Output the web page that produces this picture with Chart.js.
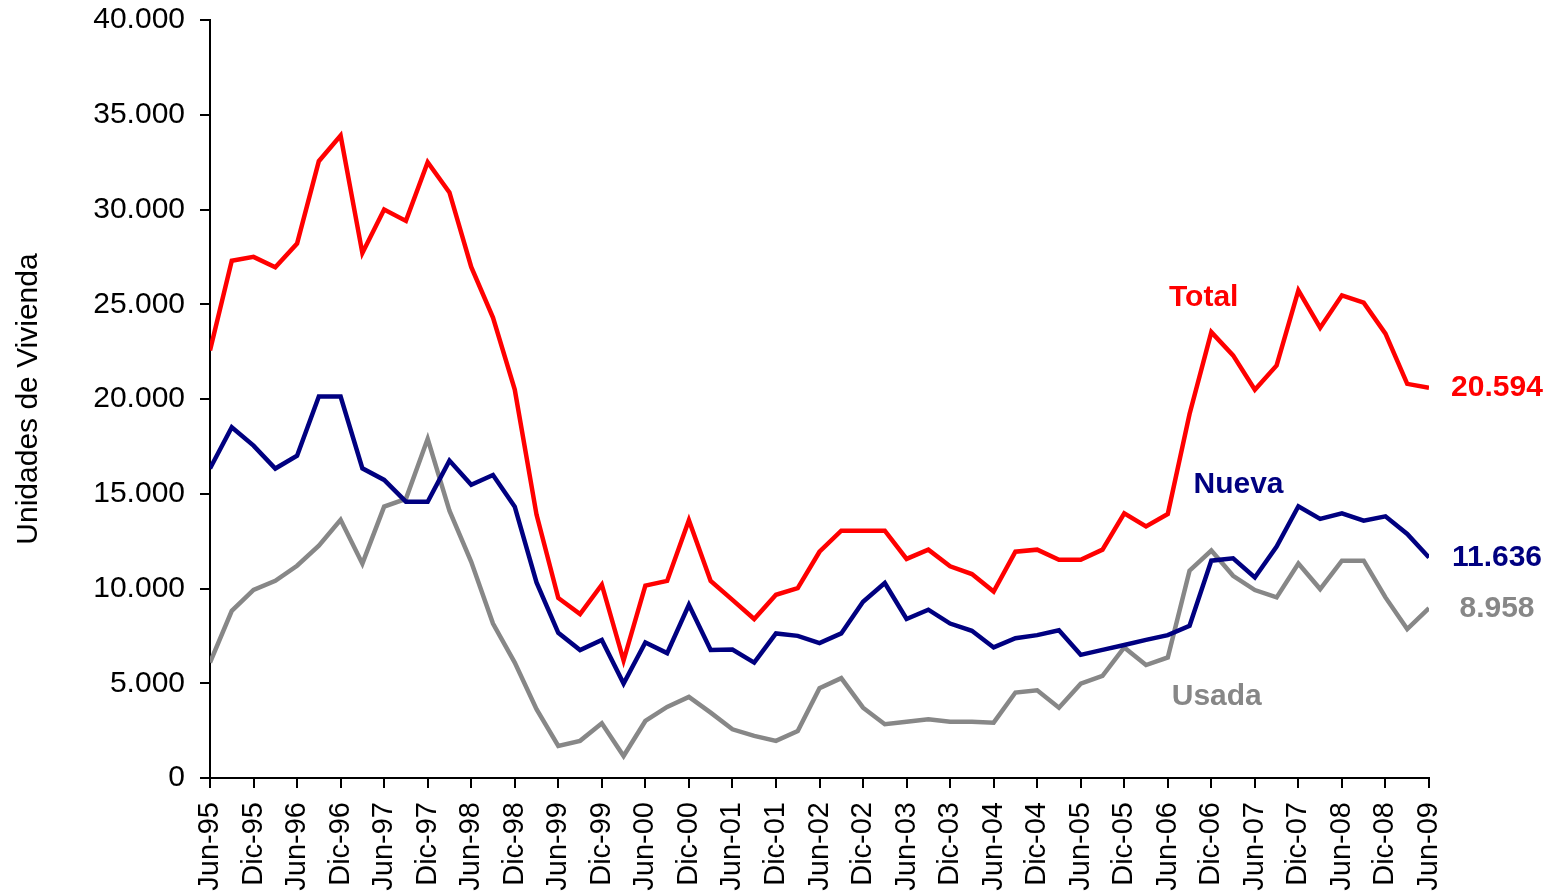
<!DOCTYPE html>
<html>
<head>
<meta charset="utf-8">
<script src="https://cdn.jsdelivr.net/npm/chart.js@4/dist/chart.umd.min.js"></script>
<style>
  html, body { margin: 0; padding: 0; background: #fff; }
  #wrap { width: 1552px; height: 896px; }
</style>
</head>
<body>
<div id="wrap"><canvas id="myChart" width="1552" height="896"></canvas></div>
<script>
// x axis labels, one every two quarters
const tickLabels = ['Jun-95', 'Dic-95', 'Jun-96', 'Dic-96', 'Jun-97', 'Dic-97', 'Jun-98', 'Dic-98',
  'Jun-99', 'Dic-99', 'Jun-00', 'Dic-00', 'Jun-01', 'Dic-01', 'Jun-02', 'Dic-02', 'Jun-03', 'Dic-03',
  'Jun-04', 'Dic-04', 'Jun-05', 'Dic-05', 'Jun-06', 'Dic-06', 'Jun-07', 'Dic-07', 'Jun-08', 'Dic-08', 'Jun-09'];

// quarterly values, Jun-95 .. Jun-09
const total = [22560, 27300, 27500, 26950, 28200, 32550, 33900, 27700, 30000, 29400,
  32500, 30900, 26970, 24300, 20500, 13900, 9500, 8650, 10200, 6200,
  10150, 10400, 13600, 10400, 9400, 8390, 9670, 10020, 11940, 13050,
  13050, 13050, 11560, 12050, 11170, 10760, 9840, 11940, 12050, 11520,
  11520, 12050, 13970, 13280, 13930, 19210, 23530, 22300, 20490, 21770,
  25730, 23760, 25470, 25080, 23450, 20800, 20594];
const nueva = [16330, 18510, 17540, 16330, 17010, 20130, 20130, 16340, 15730, 14580,
  14580, 16750, 15470, 15990, 14320, 10320, 7660, 6750, 7280, 4980,
  7150, 6590, 9140, 6750, 6780, 6090, 7630, 7500, 7120, 7630,
  9300, 10290, 8390, 8880, 8150, 7770, 6890, 7380, 7540, 7800,
  6500, 6760, 7020, 7290, 7540, 8030, 11470, 11590, 10580, 12210,
  14340, 13670, 13970, 13580, 13810, 12880, 11636];
const usada = [6090, 8820, 9930, 10410, 11200, 12260, 13630, 11310, 14320, 14730,
  17900, 14110, 11410, 8150, 6090, 3630, 1690, 1960, 2890, 1160,
  3010, 3750, 4280, 3450, 2570, 2220, 1960, 2480, 4740, 5270,
  3710, 2840, 2970, 3100, 2970, 2970, 2920, 4510, 4630, 3710,
  4980, 5390, 6890, 5960, 6360, 10940, 12000, 10670, 9920, 9530,
  11320, 9970, 11470, 11470, 9530, 7860, 8958];

const FONT = '"Liberation Sans", Arial, sans-serif';
const fmt = v => String(Math.round(v)).replace(/\B(?=(\d{3})+(?!\d))/g, '.');
const toPoints = arr => arr.map((v, i) => ({ x: i, y: v }));

// series names and last values written next to the lines
const lineLabels = {
  id: 'lineLabels',
  afterDatasetsDraw(chart) {
    const { ctx, scales: { x, y } } = chart;
    ctx.save();
    ctx.font = 'bold 30px ' + FONT;
    ctx.textAlign = 'center';
    ctx.textBaseline = 'middle';
    const names = [
      { text: 'Total', at: [45.65, 25350], ds: 0 },
      { text: 'Nueva', at: [47.25, 15480], ds: 1 },
      { text: 'Usada', at: [46.25, 4280], ds: 2 }
    ];
    names.forEach(n => {
      ctx.fillStyle = chart.data.datasets[n.ds].borderColor;
      ctx.fillText(n.text, x.getPixelForValue(n.at[0]), y.getPixelForValue(n.at[1]));
    });
    chart.data.datasets.forEach(ds => {
      const last = ds.data[ds.data.length - 1];
      ctx.fillStyle = ds.borderColor;
      ctx.fillText(fmt(last.y), x.getPixelForValue(last.x) + 68, y.getPixelForValue(last.y));
    });
    ctx.restore();
  }
};

const lineStyle = { borderWidth: 4.5, pointRadius: 0, tension: 0, fill: false };

const chartConfig = {
  type: 'line',
  data: {
    datasets: [
      { label: 'Total', data: toPoints(total), borderColor: '#ff0000', ...lineStyle },
      { label: 'Nueva', data: toPoints(nueva), borderColor: '#000080', ...lineStyle },
      { label: 'Usada', data: toPoints(usada), borderColor: '#878787', ...lineStyle }
    ]
  },
  options: {
    responsive: false,
    animation: false,
    layout: { padding: { left: 7, top: 20, right: 123, bottom: 0 } },
    plugins: {
      legend: { display: false },
      tooltip: { enabled: false }
    },
    scales: {
      x: {
        type: 'linear',
        min: 0,
        max: total.length - 1,
        border: { display: true, color: '#000', width: 2 },
        grid: { drawOnChartArea: false, drawTicks: true, tickLength: 10, color: '#000', lineWidth: 2 },
        ticks: {
          stepSize: 2,
          autoSkip: false,
          maxRotation: 90,
          minRotation: 90,
          padding: 14,
          color: '#000',
          font: { family: FONT, size: 29 },
          callback: v => tickLabels[v / 2] ?? ''
        },
        afterFit: s => { s.height = 118; }
      },
      y: {
        min: 0,
        max: 40000,
        border: { display: true, color: '#000', width: 2 },
        grid: { drawOnChartArea: false, drawTicks: true, tickLength: 10, color: '#000', lineWidth: 2 },
        ticks: {
          stepSize: 5000,
          padding: 15,
          color: '#000',
          font: { family: FONT, size: 30 },
          callback: v => fmt(v)
        },
        title: {
          display: true,
          text: 'Unidades de Vivienda',
          color: '#000',
          font: { family: FONT, size: 30 },
          padding: { top: 4, bottom: 0 }
        },
        afterFit: s => { s.width = 203; s.paddingTop = 0; }
      }
    }
  },
  plugins: [lineLabels]
};

const ctx = document.getElementById('myChart').getContext('2d');
const myChart = new Chart(ctx, chartConfig);
</script>
</body>
</html>
